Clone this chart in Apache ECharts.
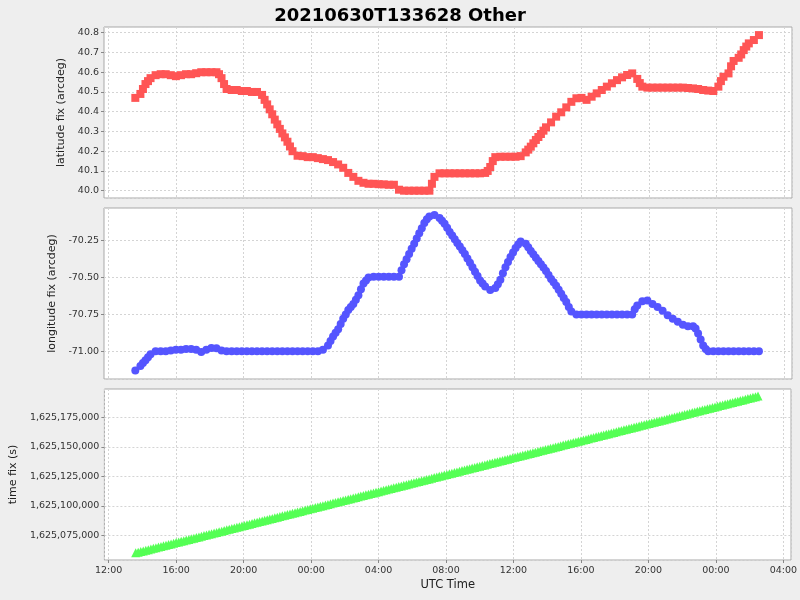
<!DOCTYPE html>
<html>
<head>
<meta charset="utf-8">
<script src="https://cdn.jsdelivr.net/npm/echarts@6/dist/echarts.min.js"></script>
<style>html,body{margin:0;padding:0;background:#eeeeee;}#c{width:800px;height:600px;}</style>
</head>
<body>
<div id="c"></div>
<script>
// ---- data (hours since 2021-06-30 00:00 UTC) ----
const titleText = '20210630T133628 Other';

const latHours = [13.6,13.9,14.05,14.2,14.35,14.5,14.8,15.1,15.4,15.7,16.0,16.3,16.6,16.9,17.2,17.5,17.8,18.1,18.4,18.55,18.7,18.85,19.0,19.3,19.6,19.9,20.2,20.5,20.8,21.1,21.25,21.4,21.55,21.7,21.85,22.0,22.15,22.3,22.45,22.6,22.75,22.9,23.2,23.5,23.8,24.1,24.4,24.7,25.0,25.3,25.6,25.9,26.2,26.5,26.8,27.1,27.4,27.7,28.0,28.3,28.6,28.9,29.2,29.5,29.8,30.1,30.4,30.7,31.0,31.15,31.3,31.6,31.9,32.2,32.5,32.8,33.1,33.4,33.7,34.0,34.3,34.45,34.6,34.75,34.9,35.2,35.5,35.8,36.1,36.4,36.7,36.85,37.0,37.15,37.3,37.45,37.6,37.75,37.9,38.2,38.5,38.8,39.1,39.4,39.7,40.0,40.3,40.6,40.9,41.2,41.5,41.8,42.1,42.4,42.7,43.0,43.3,43.45,43.6,43.9,44.2,44.5,44.8,45.1,45.4,45.7,46.0,46.3,46.6,46.9,47.2,47.5,47.8,48.1,48.25,48.4,48.7,48.85,49.0,49.3,49.45,49.6,49.75,49.9,50.2,50.5];
const latValues = [40.47,40.49,40.515,40.54,40.555,40.57,40.585,40.59,40.59,40.585,40.58,40.585,40.59,40.59,40.595,40.60,40.60,40.60,40.60,40.59,40.57,40.54,40.515,40.51,40.51,40.505,40.505,40.50,40.50,40.485,40.46,40.437,40.412,40.387,40.36,40.336,40.313,40.29,40.27,40.248,40.224,40.20,40.177,40.175,40.17,40.17,40.165,40.16,40.155,40.145,40.133,40.116,40.09,40.07,40.05,40.04,40.035,40.035,40.033,40.032,40.03,40.03,40.005,40.0,40.0,40.0,40.0,40.0,40.0,40.035,40.07,40.088,40.088,40.088,40.088,40.088,40.088,40.088,40.088,40.088,40.09,40.10,40.12,40.15,40.17,40.172,40.172,40.172,40.172,40.175,40.194,40.208,40.223,40.24,40.257,40.272,40.287,40.304,40.321,40.346,40.375,40.397,40.422,40.45,40.468,40.47,40.46,40.476,40.493,40.51,40.527,40.544,40.56,40.574,40.586,40.594,40.566,40.545,40.527,40.522,40.522,40.522,40.522,40.522,40.522,40.522,40.522,40.52,40.518,40.515,40.51,40.507,40.505,40.527,40.555,40.577,40.594,40.63,40.657,40.673,40.69,40.712,40.73,40.746,40.763,40.788];

const lonHours = [13.6,13.9,14.05,14.2,14.35,14.5,14.8,15.1,15.4,15.7,16.0,16.3,16.6,16.9,17.2,17.5,17.8,18.1,18.4,18.7,19.0,19.3,19.6,19.9,20.2,20.5,20.8,21.1,21.4,21.7,22.0,22.3,22.6,22.9,23.2,23.5,23.8,24.1,24.4,24.7,25.0,25.15,25.3,25.45,25.6,25.75,25.9,26.05,26.2,26.35,26.5,26.65,26.8,26.95,27.1,27.25,27.4,27.7,28.0,28.3,28.6,28.9,29.2,29.35,29.5,29.65,29.8,29.95,30.1,30.25,30.4,30.55,30.7,30.85,31.0,31.3,31.6,31.75,31.9,32.05,32.2,32.35,32.5,32.65,32.8,32.95,33.1,33.25,33.4,33.55,33.7,33.85,34.0,34.15,34.3,34.6,34.9,35.05,35.2,35.35,35.5,35.65,35.8,35.95,36.1,36.25,36.4,36.7,36.85,37.0,37.15,37.3,37.45,37.6,37.75,37.9,38.05,38.2,38.35,38.5,38.65,38.8,38.95,39.1,39.25,39.4,39.7,40.0,40.3,40.6,40.9,41.2,41.5,41.8,42.1,42.4,42.7,43.0,43.15,43.3,43.6,43.9,44.2,44.5,44.8,45.1,45.4,45.7,46.0,46.3,46.6,46.75,46.9,47.05,47.2,47.35,47.5,47.8,48.1,48.4,48.7,49.0,49.3,49.6,49.9,50.2,50.5];
const lonValues = [-71.13,-71.10,-71.08,-71.06,-71.04,-71.02,-71.0,-71.0,-71.0,-70.995,-70.99,-70.99,-70.985,-70.985,-70.99,-71.005,-70.99,-70.978,-70.98,-70.995,-71.0,-71.0,-71.0,-71.0,-71.0,-71.0,-71.0,-71.0,-71.0,-71.0,-71.0,-71.0,-71.0,-71.0,-71.0,-71.0,-71.0,-71.0,-71.0,-70.99,-70.96,-70.93,-70.90,-70.875,-70.85,-70.815,-70.78,-70.75,-70.72,-70.70,-70.68,-70.65,-70.62,-70.58,-70.54,-70.52,-70.50,-70.495,-70.495,-70.495,-70.495,-70.495,-70.495,-70.45,-70.41,-70.375,-70.34,-70.305,-70.27,-70.235,-70.20,-70.165,-70.13,-70.105,-70.085,-70.075,-70.095,-70.115,-70.135,-70.162,-70.19,-70.215,-70.24,-70.265,-70.29,-70.315,-70.34,-70.37,-70.40,-70.43,-70.46,-70.49,-70.52,-70.54,-70.56,-70.585,-70.57,-70.545,-70.515,-70.47,-70.43,-70.395,-70.36,-70.33,-70.30,-70.275,-70.255,-70.27,-70.295,-70.32,-70.342,-70.365,-70.388,-70.41,-70.432,-70.455,-70.482,-70.51,-70.532,-70.555,-70.582,-70.61,-70.638,-70.665,-70.70,-70.73,-70.75,-70.75,-70.75,-70.75,-70.75,-70.75,-70.75,-70.75,-70.75,-70.75,-70.75,-70.75,-70.715,-70.69,-70.66,-70.655,-70.68,-70.70,-70.725,-70.755,-70.78,-70.80,-70.82,-70.83,-70.83,-70.845,-70.88,-70.92,-70.96,-70.985,-71.0,-71.0,-71.0,-71.0,-71.0,-71.0,-71.0,-71.0,-71.0,-71.0,-71.0];

const timeHours = [13.6,13.75,13.9,14.05,14.2,14.35,14.5,14.65,14.8,14.95,15.1,15.25,15.4,15.55,15.7,15.85,16.0,16.15,16.3,16.45,16.6,16.75,16.9,17.05,17.2,17.35,17.5,17.65,17.8,17.95,18.1,18.25,18.4,18.55,18.7,18.85,19.0,19.15,19.3,19.45,19.6,19.75,19.9,20.05,20.2,20.35,20.5,20.65,20.8,20.95,21.1,21.25,21.4,21.55,21.7,21.85,22.0,22.15,22.3,22.45,22.6,22.75,22.9,23.05,23.2,23.35,23.5,23.65,23.8,23.95,24.1,24.25,24.4,24.55,24.7,24.85,25.0,25.15,25.3,25.45,25.6,25.75,25.9,26.05,26.2,26.35,26.5,26.65,26.8,26.95,27.1,27.25,27.4,27.55,27.7,27.85,28.0,28.15,28.3,28.45,28.6,28.75,28.9,29.05,29.2,29.35,29.5,29.65,29.8,29.95,30.1,30.25,30.4,30.55,30.7,30.85,31.0,31.15,31.3,31.45,31.6,31.75,31.9,32.05,32.2,32.35,32.5,32.65,32.8,32.95,33.1,33.25,33.4,33.55,33.7,33.85,34.0,34.15,34.3,34.45,34.6,34.75,34.9,35.05,35.2,35.35,35.5,35.65,35.8,35.95,36.1,36.25,36.4,36.55,36.7,36.85,37.0,37.15,37.3,37.45,37.6,37.75,37.9,38.05,38.2,38.35,38.5,38.65,38.8,38.95,39.1,39.25,39.4,39.55,39.7,39.85,40.0,40.15,40.3,40.45,40.6,40.75,40.9,41.05,41.2,41.35,41.5,41.65,41.8,41.95,42.1,42.25,42.4,42.55,42.7,42.85,43.0,43.15,43.3,43.45,43.6,43.75,43.9,44.05,44.2,44.35,44.5,44.65,44.8,44.95,45.1,45.25,45.4,45.55,45.7,45.85,46.0,46.15,46.3,46.45,46.6,46.75,46.9,47.05,47.2,47.35,47.5,47.65,47.8,47.95,48.1,48.25,48.4,48.55,48.7,48.85,49.0,49.15,49.3,49.45,49.6,49.75,49.9,50.05,50.2,50.35,50.5];
const timeValues = [1625060160,1625060700,1625061240,1625061780,1625062320,1625062860,1625063400,1625063940,1625064480,1625065020,1625065560,1625066100,1625066640,1625067180,1625067720,1625068260,1625068800,1625069340,1625069880,1625070420,1625070960,1625071500,1625072040,1625072580,1625073120,1625073660,1625074200,1625074740,1625075280,1625075820,1625076360,1625076900,1625077440,1625077980,1625078520,1625079060,1625079600,1625080140,1625080680,1625081220,1625081760,1625082300,1625082840,1625083380,1625083920,1625084460,1625085000,1625085540,1625086080,1625086620,1625087160,1625087700,1625088240,1625088780,1625089320,1625089860,1625090400,1625090940,1625091480,1625092020,1625092560,1625093100,1625093640,1625094180,1625094720,1625095260,1625095800,1625096340,1625096880,1625097420,1625097960,1625098500,1625099040,1625099580,1625100120,1625100660,1625101200,1625101740,1625102280,1625102820,1625103360,1625103900,1625104440,1625104980,1625105520,1625106060,1625106600,1625107140,1625107680,1625108220,1625108760,1625109300,1625109840,1625110380,1625110920,1625111460,1625112000,1625112540,1625113080,1625113620,1625114160,1625114700,1625115240,1625115780,1625116320,1625116860,1625117400,1625117940,1625118480,1625119020,1625119560,1625120100,1625120640,1625121180,1625121720,1625122260,1625122800,1625123340,1625123880,1625124420,1625124960,1625125500,1625126040,1625126580,1625127120,1625127660,1625128200,1625128740,1625129280,1625129820,1625130360,1625130900,1625131440,1625131980,1625132520,1625133060,1625133600,1625134140,1625134680,1625135220,1625135760,1625136300,1625136840,1625137380,1625137920,1625138460,1625139000,1625139540,1625140080,1625140620,1625141160,1625141700,1625142240,1625142780,1625143320,1625143860,1625144400,1625144940,1625145480,1625146020,1625146560,1625147100,1625147640,1625148180,1625148720,1625149260,1625149800,1625150340,1625150880,1625151420,1625151960,1625152500,1625153040,1625153580,1625154120,1625154660,1625155200,1625155740,1625156280,1625156820,1625157360,1625157900,1625158440,1625158980,1625159520,1625160060,1625160600,1625161140,1625161680,1625162220,1625162760,1625163300,1625163840,1625164380,1625164920,1625165460,1625166000,1625166540,1625167080,1625167620,1625168160,1625168700,1625169240,1625169780,1625170320,1625170860,1625171400,1625171940,1625172480,1625173020,1625173560,1625174100,1625174640,1625175180,1625175720,1625176260,1625176800,1625177340,1625177880,1625178420,1625178960,1625179500,1625180040,1625180580,1625181120,1625181660,1625182200,1625182740,1625183280,1625183820,1625184360,1625184900,1625185440,1625185980,1625186520,1625187060,1625187600,1625188140,1625188680,1625189220,1625189760,1625190300,1625190840,1625191380,1625191920,1625192460,1625193000];

// ---- chart ----
const T0 = Date.UTC(2021, 5, 30);
const toMs = h => T0 + h * 3600000;
const pairs = (hs, vs) => hs.map((h, i) => [toMs(h), vs[i]]);
const FONT = 'DejaVu Sans';
const FOUR_H = 4 * 3600000;
const pad = n => (n < 10 ? '0' : '') + n;
const fmtTime = v => { const d = new Date(v); return pad(d.getUTCHours()) + ':' + pad(d.getUTCMinutes()); };
const fmtComma = v => String(Math.round(v)).replace(/\B(?=(\d{3})+(?!\d))/g, ',');

const gridLine = { show: true, lineStyle: { color: '#d4d4d4', type: [2, 2], width: 1 } };
const tickStyle = { show: true, length: 3, lineStyle: { color: '#888' } };

function xAxis(i, labels) {
  return {
    type: 'value', gridIndex: i, min: toMs(11.746), max: toMs(52.456),
    minInterval: FOUR_H, maxInterval: FOUR_H,
    axisLine: { show: false },
    axisTick: labels ? tickStyle : { show: false },
    axisLabel: labels ? { show: true, formatter: fmtTime, color: '#333', fontFamily: FONT, fontSize: 9.5, margin: 6, showMinLabel: false, showMaxLabel: false } : { show: false },
    splitLine: gridLine,
    name: labels ? 'UTC Time' : '', nameLocation: 'middle', nameGap: 19,
    nameTextStyle: { fontFamily: FONT, fontSize: 11.5, color: '#222' }
  };
}
function yAxis(i, min, max, step, fmt, name, gap) {
  return {
    type: 'value', gridIndex: i, min: min, max: max, minInterval: step, maxInterval: step,
    axisLine: { show: false }, axisTick: tickStyle,
    axisLabel: { formatter: fmt, color: '#333', fontFamily: FONT, fontSize: 9.5, margin: 5, showMinLabel: false, showMaxLabel: false },
    splitLine: gridLine,
    name: name, nameLocation: 'middle', nameGap: gap,
    nameTextStyle: { fontFamily: FONT, fontSize: 11, color: '#222' }
  };
}
const gridBase = { left: 104, right: 8, height: 171, show: true, backgroundColor: '#ffffff', borderColor: '#a8a8a8', borderWidth: 1 };

const option = {
  backgroundColor: '#eeeeee',
  animation: false,
  title: { text: titleText, left: 'center', top: 2, textStyle: { fontFamily: FONT, fontSize: 18, fontWeight: 'bold', color: '#000' } },
  grid: [
    Object.assign({ top: 27 }, gridBase),
    Object.assign({ top: 208 }, gridBase),
    Object.assign({ top: 389 }, gridBase)
  ],
  xAxis: [xAxis(0, false), xAxis(1, false), xAxis(2, true)],
  yAxis: [
    yAxis(0, 39.963, 40.829, 0.1, v => v.toFixed(1), 'latitude fix (arcdeg)', 32),
    yAxis(1, -71.188, -70.028, 0.25, v => v.toFixed(2), 'longitude fix (arcdeg)', 42),
    yAxis(2, 1625054070, 1625198980, 25000, fmtComma, 'time fix (s)', 80)
  ],
  series: [
    { type: 'scatter', xAxisIndex: 0, yAxisIndex: 0, symbol: 'rect', symbolSize: 8, itemStyle: { color: '#ff5555', opacity: 1 }, data: pairs(latHours, latValues) },
    { type: 'scatter', xAxisIndex: 1, yAxisIndex: 1, symbol: 'circle', symbolSize: 8, itemStyle: { color: '#5555ff', opacity: 1 }, data: pairs(lonHours, lonValues) },
    { type: 'scatter', xAxisIndex: 2, yAxisIndex: 2, symbol: 'triangle', symbolSize: 9, itemStyle: { color: '#55ff55', opacity: 1 }, data: pairs(timeHours, timeValues) }
  ]
};
echarts.init(document.getElementById('c'), null, { renderer: 'canvas' }).setOption(option);
</script>
</body>
</html>
